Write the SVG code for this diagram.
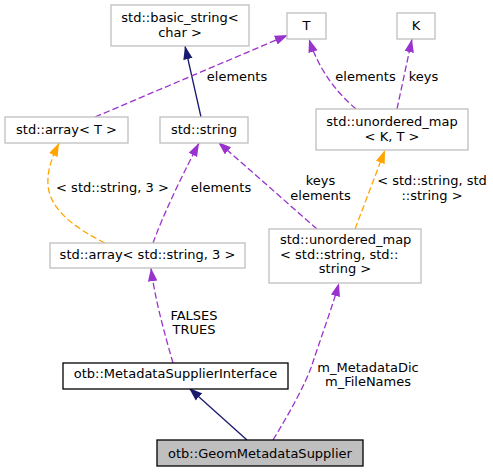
<svg xmlns="http://www.w3.org/2000/svg" width="493" height="472" viewBox="0 0 493 472">
<style>
text{font-family:"DejaVu Sans","Liberation Sans",sans-serif;font-size:13px;fill:#000;text-anchor:middle}
.lib{fill:#fff;stroke:#bfbfbf;stroke-width:1.3}
.otb{fill:#fff;stroke:#000;stroke-width:1.3}
.cur{fill:#bfbfbf;stroke:#000;stroke-width:1.3}
.inh{fill:none;stroke:#191970;stroke-width:1.3}
.use{fill:none;stroke:#9a32cd;stroke-width:1.3;stroke-dasharray:6.5,3}
.tpl{fill:none;stroke:#ffa500;stroke-width:1.3;stroke-dasharray:6.5,3}
.st{text-anchor:start}
</style>
<defs>
<marker id="aN" markerUnits="userSpaceOnUse" markerWidth="14" markerHeight="10" refX="13.3" refY="5" orient="auto" viewBox="0 0 14 10"><path d="M0,0.3 L13.3,5 L0,9.7 z" fill="#191970" stroke="none"/></marker>
<marker id="aP" markerUnits="userSpaceOnUse" markerWidth="14" markerHeight="10" refX="13.3" refY="5" orient="auto" viewBox="0 0 14 10"><path d="M0,0.3 L13.3,5 L0,9.7 z" fill="#9a32cd" stroke="none"/></marker>
<marker id="aO" markerUnits="userSpaceOnUse" markerWidth="14" markerHeight="10" refX="13.3" refY="5" orient="auto" viewBox="0 0 14 10"><path d="M0,0.3 L13.3,5 L0,9.7 z" fill="#ffa500" stroke="none"/></marker>
</defs>
<g id="connectors">
<path class="inh" d="M201,117 L185,46" marker-end="url(#aN)"/>
<path class="use" d="M95,117 L288,35" marker-end="url(#aP)"/>
<text x="237" y="81">elements</text>
<path class="use" d="M356,109 Q322,80 309,39" marker-end="url(#aP)"/>
<text x="365.5" y="81">elements</text>
<path class="use" d="M397,109 L412,39" marker-end="url(#aP)"/>
<text x="423.5" y="81">keys</text>
<path class="tpl" d="M105,243 C75,228 50,210 48,185 C47,170 52,158 59,143" marker-end="url(#aO)"/>
<text x="112.5" y="192">&lt; std::string, 3 &gt;</text>
<path class="use" d="M153,243 C165,210 185,170 199,143" marker-end="url(#aP)"/>
<text x="221" y="192">elements</text>
<path class="use" d="M317,229 L218,142" marker-end="url(#aP)"/>
<text x="320.5" y="185">keys</text>
<text x="320.5" y="200">elements</text>
<path class="tpl" d="M355,229 L385,150" marker-end="url(#aO)"/>
<text x="432" y="185">&lt; std::string, std</text>
<text x="432" y="200">::string &gt;</text>
<path class="use" d="M173,363 C165,335 155,300 151,268" marker-end="url(#aP)"/>
<text x="194" y="320">FALSES</text>
<text x="194" y="334">TRUES</text>
<path class="inh" d="M247,440 L189,388" marker-end="url(#aN)"/>
<path class="use" d="M273,440 C290,412 305,385 312,365 C320,340 332,308 339,283" marker-end="url(#aP)"/>
<text x="368" y="372">m_MetadataDic</text>
<text x="368" y="386">m_FileNames</text>
</g>
<g id="basic_string">
<rect class="lib" x="111" y="5" width="138" height="41"/>
<text x="180" y="21.5">std::basic_string&lt;</text>
<text x="180" y="36.5">char &gt;</text>
</g>
<g id="T">
<rect class="lib" x="287" y="13" width="39" height="26"/>
<text x="306.5" y="30">T</text>
</g>
<g id="K">
<rect class="lib" x="397" y="13" width="38" height="26"/>
<text x="416" y="30">K</text>
</g>
<g id="array_T">
<rect class="lib" x="5" y="117" width="123" height="26"/>
<text x="66.5" y="134">std::array&lt; T &gt;</text>
</g>
<g id="string">
<rect class="lib" x="160" y="117" width="88" height="26"/>
<text x="204" y="134">std::string</text>
</g>
<g id="unordered_map_KT">
<rect class="lib" x="316" y="109" width="152" height="41"/>
<text x="392" y="125.5">std::unordered_map</text>
<text x="392" y="140.5">&lt; K, T &gt;</text>
</g>
<g id="array_string_3">
<rect class="lib" x="50" y="243" width="195" height="25"/>
<text x="147.5" y="259">std::array&lt; std::string, 3 &gt;</text>
</g>
<g id="unordered_map_ss">
<rect class="lib" x="269" y="229" width="152" height="54"/>
<text class="st" x="280" y="244">std::unordered_map</text>
<text class="st" x="280" y="258.5">&lt; std::string, std::</text>
<text x="345" y="273">string &gt;</text>
</g>
<g id="MetadataSupplierInterface">
<rect class="otb" x="63" y="363" width="225" height="26"/>
<text x="175.5" y="378">otb::MetadataSupplierInterface</text>
</g>
<g id="GeomMetadataSupplier">
<rect class="cur" x="157" y="440" width="206" height="26"/>
<text x="260" y="458">otb::GeomMetadataSupplier</text>
</g>
</svg>
